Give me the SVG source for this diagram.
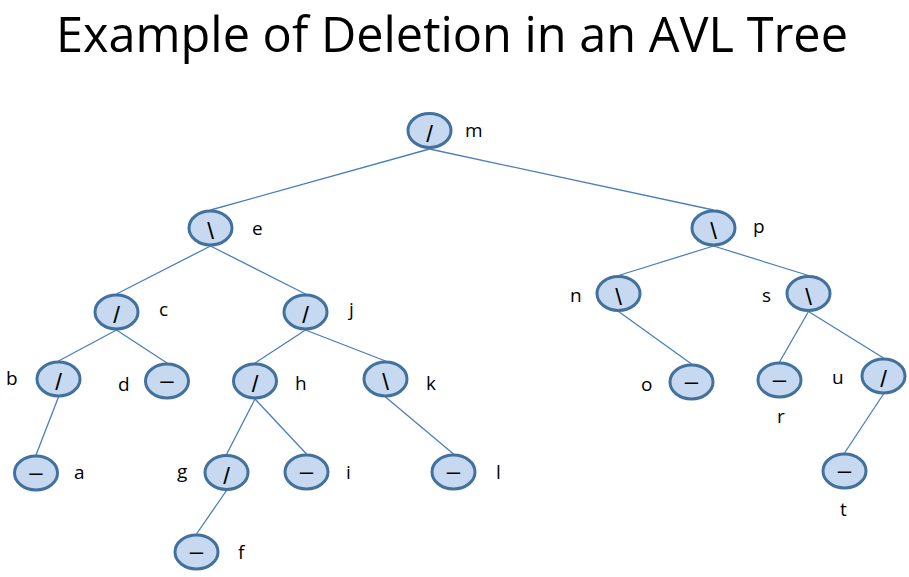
<svg xmlns="http://www.w3.org/2000/svg" width="909" height="577" viewBox="0 0 909 577">
<style>
.n{fill:#C6D9F1;stroke:#41719C;stroke-width:3}
.g{font-family:"Liberation Sans",Arial,sans-serif;font-size:24px;fill:#000;text-anchor:middle}
.l{font-family:"Open Sans","Liberation Sans",sans-serif;font-size:19px;fill:#000}
.e{stroke:#4A7EBB;stroke-width:1.3;fill:none}
.t{font-family:"Open Sans","Liberation Sans",sans-serif;font-size:49px;fill:#000}
</style>
<rect width="909" height="577" fill="#fff"/>
<text class="t" x="56" y="52" textLength="792" lengthAdjust="spacingAndGlyphs">Example of Deletion in an AVL Tree</text>
<g id="edges">
<line class="e" x1="429.5" y1="149" x2="210.5" y2="210"/>
<line class="e" x1="429.5" y1="149" x2="713.5" y2="210"/>
<line class="e" x1="210.5" y1="246" x2="116.5" y2="294"/>
<line class="e" x1="210.5" y1="246" x2="305.5" y2="294"/>
<line class="e" x1="116.5" y1="330" x2="58.5" y2="361"/>
<line class="e" x1="116.5" y1="330" x2="167" y2="363"/>
<line class="e" x1="305.5" y1="330" x2="255" y2="363"/>
<line class="e" x1="305.5" y1="330" x2="385.5" y2="361"/>
<line class="e" x1="58.5" y1="397" x2="36" y2="455"/>
<line class="e" x1="255" y1="399" x2="226.5" y2="454.5"/>
<line class="e" x1="255" y1="399" x2="306.5" y2="454"/>
<line class="e" x1="226.5" y1="490.5" x2="196.5" y2="534"/>
<line class="e" x1="385.5" y1="397" x2="453.5" y2="454"/>
<line class="e" x1="713.5" y1="246" x2="618.5" y2="275.5"/>
<line class="e" x1="713.5" y1="246" x2="808.5" y2="275.5"/>
<line class="e" x1="618.5" y1="311.5" x2="691.5" y2="364"/>
<line class="e" x1="808.5" y1="311.5" x2="779.5" y2="362"/>
<line class="e" x1="808.5" y1="311.5" x2="883.5" y2="358"/>
<line class="e" x1="883.5" y1="394" x2="844.5" y2="453"/>
</g>
<g id="node-m"><ellipse class="n" cx="429.5" cy="130.5" rx="21.5" ry="17"/><text class="g" x="429.5" y="141.5">/</text><text class="l" x="465" y="137">m</text></g>
<g id="node-e"><ellipse class="n" cx="210.5" cy="228" rx="21.5" ry="17"/><text class="g" x="210.5" y="239">\</text><text class="l" x="252" y="235">e</text></g>
<g id="node-p"><ellipse class="n" cx="713.5" cy="228" rx="21.5" ry="17"/><text class="g" x="713.5" y="239">\</text><text class="l" x="753" y="233">p</text></g>
<g id="node-c"><ellipse class="n" cx="116.5" cy="312" rx="21.5" ry="17"/><text class="g" x="116.5" y="323">/</text><text class="l" x="159" y="316">c</text></g>
<g id="node-j"><ellipse class="n" cx="305.5" cy="312" rx="21.5" ry="17"/><text class="g" x="305.5" y="323">/</text><text class="l" x="349" y="316">j</text></g>
<g id="node-n"><ellipse class="n" cx="618.5" cy="293.5" rx="21.5" ry="17"/><text class="g" x="618.5" y="304.5">\</text><text class="l" x="570" y="302">n</text></g>
<g id="node-s"><ellipse class="n" cx="808.5" cy="293.5" rx="21.5" ry="17"/><text class="g" x="808.5" y="304.5">\</text><text class="l" x="762" y="302">s</text></g>
<g id="node-b"><ellipse class="n" cx="58.5" cy="379" rx="21.5" ry="17"/><text class="g" x="58.5" y="390">/</text><text class="l" x="6" y="385">b</text></g>
<g id="node-d"><ellipse class="n" cx="167" cy="381" rx="21.5" ry="17"/><text class="g" x="167" y="387.5">–</text><text class="l" x="118" y="391">d</text></g>
<g id="node-h"><ellipse class="n" cx="255" cy="381" rx="21.5" ry="17"/><text class="g" x="255" y="392">/</text><text class="l" x="295" y="390">h</text></g>
<g id="node-k"><ellipse class="n" cx="385.5" cy="379" rx="21.5" ry="17"/><text class="g" x="385.5" y="390">\</text><text class="l" x="426" y="390">k</text></g>
<g id="node-o"><ellipse class="n" cx="691.5" cy="382" rx="21.5" ry="17"/><text class="g" x="691.5" y="388.5">–</text><text class="l" x="641" y="391">o</text></g>
<g id="node-r"><ellipse class="n" cx="779.5" cy="380" rx="21.5" ry="17"/><text class="g" x="779.5" y="386.5">–</text><text class="l" x="777" y="423">r</text></g>
<g id="node-u"><ellipse class="n" cx="883.5" cy="376" rx="21.5" ry="17"/><text class="g" x="883.5" y="387">/</text><text class="l" x="832" y="384">u</text></g>
<g id="node-a"><ellipse class="n" cx="36" cy="473" rx="21.5" ry="17"/><text class="g" x="36" y="479.5">–</text><text class="l" x="74" y="479">a</text></g>
<g id="node-g"><ellipse class="n" cx="226.5" cy="472.5" rx="21.5" ry="17"/><text class="g" x="226.5" y="483.5">/</text><text class="l" x="177" y="478">g</text></g>
<g id="node-i"><ellipse class="n" cx="306.5" cy="472" rx="21.5" ry="17"/><text class="g" x="306.5" y="478.5">–</text><text class="l" x="346" y="479">i</text></g>
<g id="node-l"><ellipse class="n" cx="453.5" cy="472" rx="21.5" ry="17"/><text class="g" x="453.5" y="478.5">–</text><text class="l" x="496" y="479">l</text></g>
<g id="node-t"><ellipse class="n" cx="844.5" cy="471" rx="21.5" ry="17"/><text class="g" x="844.5" y="477.5">–</text><text class="l" x="840" y="516">t</text></g>
<g id="node-f"><ellipse class="n" cx="196.5" cy="552" rx="21.5" ry="17"/><text class="g" x="196.5" y="558.5">–</text><text class="l" x="238" y="559">f</text></g>
</svg>
